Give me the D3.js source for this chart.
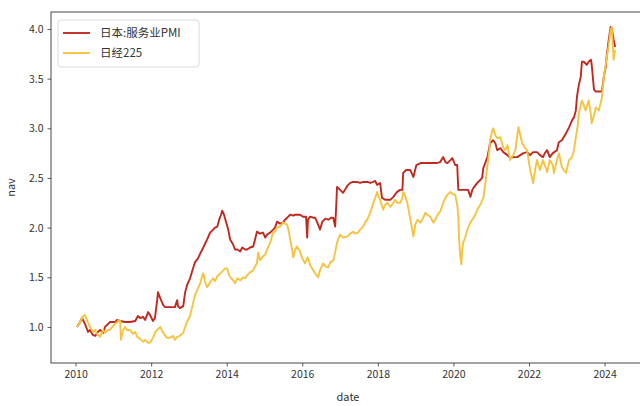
<!DOCTYPE html>
<html>
<head>
<meta charset="utf-8">
<script src="https://cdn.jsdelivr.net/npm/d3@7"></script>
<style>
  html, body { margin: 0; padding: 0; background: #fff; }
  svg { display: block; }
  text { font-family: "Noto Sans CJK SC", "DejaVu Sans", sans-serif; }
</style>
</head>
<body>
<svg id="chart" width="640" height="406"></svg>
<script>
// ---- data (decimal years, NAV values) ----
const seriesNames = ["日本:服务业PMI", "日经225"];
const xTickValues = [2010, 2012, 2014, 2016, 2018, 2020, 2022, 2024];
const yTickValues = [1.0, 1.5, 2.0, 2.5, 3.0, 3.5, 4.0];

const pmiYears = [2010.04,2010.12,2010.17,2010.25,2010.33,2010.38,2010.46,2010.52,2010.57,2010.65,2010.73,2010.78,2010.86,2010.91,2011.05,2011.10,2011.18,2011.31,2011.44,2011.58,2011.65,2011.71,2011.79,2011.84,2011.92,2011.97,2012.05,2012.10,2012.16,2012.18,2012.24,2012.32,2012.37,2012.50,2012.63,2012.69,2012.71,2012.76,2012.85,2012.90,2012.95,2013.03,2013.11,2013.16,2013.24,2013.30,2013.38,2013.43,2013.48,2013.56,2013.64,2013.69,2013.75,2013.80,2013.85,2013.88,2013.93,2013.98,2014.04,2014.09,2014.17,2014.22,2014.28,2014.36,2014.41,2014.49,2014.54,2014.62,2014.70,2014.75,2014.80,2014.88,2014.96,2015.02,2015.07,2015.15,2015.23,2015.28,2015.33,2015.41,2015.49,2015.54,2015.60,2015.68,2015.76,2015.81,2015.94,2016.02,2016.10,2016.13,2016.15,2016.21,2016.29,2016.34,2016.42,2016.47,2016.53,2016.61,2016.69,2016.76,2016.82,2016.87,2016.90,2016.92,2017.00,2017.08,2017.19,2017.27,2017.35,2017.45,2017.53,2017.61,2017.72,2017.80,2017.88,2017.93,2017.98,2018.06,2018.11,2018.19,2018.33,2018.41,2018.51,2018.59,2018.65,2018.67,2018.75,2018.86,2018.94,2019.02,2019.13,2019.26,2019.39,2019.47,2019.55,2019.65,2019.73,2019.79,2019.84,2019.92,2019.97,2020.05,2020.10,2020.13,2020.23,2020.31,2020.39,2020.45,2020.50,2020.53,2020.63,2020.71,2020.76,2020.79,2020.84,2020.90,2020.97,2021.05,2021.11,2021.16,2021.24,2021.32,2021.43,2021.50,2021.58,2021.69,2021.77,2021.85,2021.95,2022.03,2022.11,2022.21,2022.29,2022.37,2022.42,2022.48,2022.55,2022.63,2022.74,2022.79,2022.87,2022.98,2023.06,2023.14,2023.19,2023.24,2023.27,2023.32,2023.37,2023.40,2023.45,2023.53,2023.58,2023.64,2023.66,2023.72,2023.77,2023.85,2023.93,2023.98,2024.03,2024.06,2024.11,2024.16,2024.19,2024.24,2024.28];
const pmiValues = [1.00,1.05,1.09,1.03,0.95,0.97,0.92,0.91,0.94,0.97,0.94,1.00,1.03,1.05,1.05,1.07,1.06,1.05,1.05,1.06,1.11,1.09,1.10,1.07,1.15,1.12,1.06,1.09,1.27,1.35,1.29,1.22,1.20,1.20,1.20,1.27,1.21,1.19,1.21,1.35,1.42,1.49,1.59,1.65,1.69,1.74,1.80,1.84,1.88,1.95,1.98,2.00,2.01,2.08,2.13,2.17,2.13,2.06,1.98,1.88,1.83,1.78,1.78,1.76,1.80,1.78,1.78,1.80,1.81,1.88,1.96,1.94,1.95,1.90,1.93,1.95,1.98,2.00,2.06,2.04,2.05,2.08,2.10,2.13,2.12,2.13,2.13,2.11,2.11,1.90,2.08,2.11,2.10,2.10,2.03,1.98,2.06,2.09,2.08,2.10,2.10,2.01,2.23,2.41,2.38,2.35,2.42,2.45,2.46,2.46,2.45,2.46,2.46,2.45,2.46,2.47,2.43,2.45,2.30,2.28,2.28,2.31,2.36,2.38,2.38,2.55,2.58,2.58,2.51,2.63,2.65,2.65,2.65,2.65,2.65,2.66,2.71,2.66,2.65,2.68,2.70,2.63,2.63,2.38,2.38,2.38,2.38,2.31,2.38,2.40,2.45,2.48,2.50,2.60,2.65,2.71,2.85,2.88,2.85,2.78,2.80,2.76,2.73,2.70,2.71,2.71,2.73,2.75,2.76,2.73,2.76,2.76,2.73,2.71,2.75,2.78,2.71,2.75,2.78,2.86,2.88,2.95,3.01,3.08,3.11,3.18,3.32,3.44,3.52,3.67,3.67,3.64,3.67,3.69,3.64,3.39,3.37,3.37,3.37,3.52,3.62,3.74,3.89,4.02,4.01,3.89,3.82];

const nikkeiYears = [2010.04,2010.12,2010.20,2010.25,2010.30,2010.38,2010.46,2010.52,2010.57,2010.65,2010.73,2010.78,2010.86,2010.91,2010.99,2011.05,2011.10,2011.15,2011.18,2011.20,2011.26,2011.31,2011.36,2011.44,2011.52,2011.58,2011.63,2011.71,2011.79,2011.84,2011.92,2011.97,2012.05,2012.10,2012.16,2012.24,2012.29,2012.34,2012.42,2012.50,2012.58,2012.63,2012.69,2012.76,2012.85,2012.90,2012.95,2013.03,2013.11,2013.16,2013.22,2013.30,2013.35,2013.38,2013.43,2013.48,2013.56,2013.64,2013.69,2013.75,2013.83,2013.91,2013.96,2014.01,2014.04,2014.09,2014.17,2014.22,2014.28,2014.36,2014.44,2014.49,2014.54,2014.62,2014.70,2014.75,2014.80,2014.83,2014.88,2014.96,2015.02,2015.07,2015.15,2015.23,2015.28,2015.33,2015.41,2015.49,2015.54,2015.60,2015.65,2015.68,2015.73,2015.76,2015.81,2015.86,2015.94,2015.99,2016.07,2016.13,2016.15,2016.21,2016.29,2016.34,2016.42,2016.47,2016.55,2016.61,2016.69,2016.74,2016.82,2016.87,2016.92,2017.00,2017.08,2017.19,2017.27,2017.35,2017.40,2017.48,2017.53,2017.61,2017.66,2017.72,2017.80,2017.88,2017.93,2017.98,2018.01,2018.06,2018.14,2018.19,2018.25,2018.33,2018.41,2018.46,2018.51,2018.59,2018.65,2018.67,2018.73,2018.78,2018.86,2018.91,2018.94,2018.99,2019.05,2019.13,2019.20,2019.26,2019.31,2019.39,2019.47,2019.52,2019.58,2019.65,2019.73,2019.79,2019.84,2019.92,2019.97,2020.05,2020.10,2020.13,2020.15,2020.18,2020.21,2020.23,2020.26,2020.31,2020.37,2020.45,2020.53,2020.58,2020.63,2020.71,2020.79,2020.84,2020.90,2020.95,2020.97,2021.03,2021.05,2021.11,2021.16,2021.24,2021.32,2021.37,2021.43,2021.50,2021.58,2021.64,2021.69,2021.72,2021.77,2021.82,2021.90,2021.95,2022.03,2022.11,2022.16,2022.21,2022.29,2022.37,2022.42,2022.48,2022.55,2022.63,2022.66,2022.74,2022.79,2022.87,2022.92,2022.98,2023.06,2023.14,2023.19,2023.24,2023.29,2023.32,2023.40,2023.45,2023.50,2023.58,2023.64,2023.66,2023.72,2023.77,2023.85,2023.93,2023.98,2024.06,2024.11,2024.16,2024.19,2024.21,2024.24,2024.28];
const nikkeiValues = [1.00,1.05,1.11,1.12,1.07,1.00,0.95,0.97,0.93,0.90,0.97,0.94,0.97,0.97,1.01,1.03,1.05,1.07,1.06,0.87,0.97,1.00,0.97,0.97,0.93,0.95,0.90,0.88,0.85,0.87,0.84,0.84,0.89,0.94,0.97,1.00,0.96,0.93,0.89,0.89,0.91,0.87,0.90,0.91,0.94,1.00,1.05,1.11,1.24,1.32,1.37,1.44,1.51,1.54,1.45,1.40,1.45,1.49,1.46,1.51,1.54,1.57,1.59,1.59,1.55,1.50,1.47,1.44,1.49,1.47,1.50,1.49,1.52,1.55,1.57,1.61,1.64,1.75,1.67,1.71,1.73,1.78,1.85,1.95,1.96,2.00,2.01,2.05,2.04,2.03,1.95,1.88,1.78,1.70,1.78,1.81,1.76,1.70,1.64,1.69,1.70,1.62,1.57,1.54,1.50,1.57,1.64,1.61,1.60,1.65,1.67,1.75,1.85,1.93,1.90,1.91,1.94,1.96,1.94,1.95,1.98,2.01,2.05,2.08,2.15,2.25,2.30,2.36,2.32,2.28,2.18,2.23,2.25,2.21,2.25,2.28,2.25,2.25,2.30,2.36,2.31,2.25,2.08,1.98,1.91,2.03,2.08,2.05,2.10,2.15,2.13,2.11,2.05,2.08,2.13,2.16,2.25,2.30,2.33,2.36,2.34,2.33,2.23,2.11,1.88,1.72,1.63,1.77,1.85,1.90,1.98,2.05,2.10,2.13,2.18,2.23,2.30,2.43,2.63,2.78,2.88,2.98,3.00,2.93,2.90,2.91,2.81,2.78,2.83,2.68,2.73,2.78,2.93,3.01,2.93,2.85,2.80,2.78,2.58,2.45,2.58,2.68,2.58,2.68,2.63,2.56,2.68,2.63,2.55,2.68,2.75,2.61,2.58,2.55,2.68,2.71,2.78,2.91,3.03,3.15,3.28,3.23,3.18,3.28,3.13,3.05,3.13,3.21,3.18,3.31,3.52,3.72,3.84,3.99,4.02,3.89,3.69,3.79];

const colors = ["#c1281e", "#f5c33f"];

// ---- layout ----
const svg = d3.select("#chart");
const mLeft = 51, mRight = 645, mTop = 12, mBottom = 363;

const x = d3.scaleLinear().domain([2009.35, 2025.07]).range([mLeft, mRight]);
const y = d3.scaleLinear().domain([0.637, 4.171]).range([mBottom, mTop]);

svg.append("defs").append("clipPath").attr("id", "clip")
  .append("rect").attr("x", mLeft).attr("y", mTop)
  .attr("width", mRight - mLeft).attr("height", mBottom - mTop);

// lines
const series = [
  d3.zip(pmiYears, pmiValues),
  d3.zip(nikkeiYears, nikkeiValues)
];
const line = d3.line().x(d => x(d[0])).y(d => y(d[1]));
const g = svg.append("g").attr("clip-path", "url(#clip)");
series.forEach((s, i) => {
  g.append("path").datum(s)
    .attr("d", line)
    .attr("fill", "none")
    .attr("stroke", colors[i])
    .attr("stroke-width", 1.9)
    .attr("stroke-linejoin", "round");
});

// axes
const xAxis = d3.axisBottom(x).tickValues(xTickValues).tickFormat(d3.format("d")).tickSizeOuter(0).tickSize(3.5).tickPadding(4);
const yAxis = d3.axisLeft(y).tickValues(yTickValues).tickFormat(d3.format(".1f")).tickSizeOuter(0).tickSize(3.5).tickPadding(4);

const gx = svg.append("g").attr("transform", `translate(0,${mBottom})`).call(xAxis);
const gy = svg.append("g").attr("transform", `translate(${mLeft},0)`).call(yAxis);
[gx, gy].forEach(ax => {
  ax.select(".domain").remove();
  ax.selectAll(".tick line").attr("stroke", "#333").attr("stroke-width", 0.8);
  ax.selectAll(".tick text").attr("fill", "#333").style("font-size", "10.5px");
});

// frame (spines)
svg.append("rect")
  .attr("x", mLeft).attr("y", mTop)
  .attr("width", mRight - mLeft).attr("height", mBottom - mTop)
  .attr("fill", "none").attr("stroke", "#333").attr("stroke-width", 0.9);

// axis labels
svg.append("text").attr("x", (mLeft + mRight) / 2).attr("y", 401)
  .attr("text-anchor", "middle").attr("fill", "#333").style("font-size", "11px").text("date");
svg.append("text").attr("transform", `translate(15,${(mTop + mBottom) / 2}) rotate(-90)`)
  .attr("text-anchor", "middle").attr("fill", "#333").style("font-size", "11px").text("nav");

// legend
const lg = svg.append("g");
lg.append("rect").attr("x", 58).attr("y", 20).attr("width", 141).attr("height", 47)
  .attr("rx", 3).attr("fill", "#fff").attr("fill-opacity", 0.8)
  .attr("stroke", "#d6d6d6").attr("stroke-width", 0.9);
seriesNames.forEach((name, i) => {
  const yy = 33 + i * 20;
  lg.append("line").attr("x1", 63).attr("x2", 90).attr("y1", yy).attr("y2", yy)
    .attr("stroke", colors[i]).attr("stroke-width", 1.9);
  lg.append("text").attr("x", 100).attr("y", yy + 4).attr("fill", "#333")
    .style("font-size", "11.5px").text(name);
});
</script>
</body>
</html>
